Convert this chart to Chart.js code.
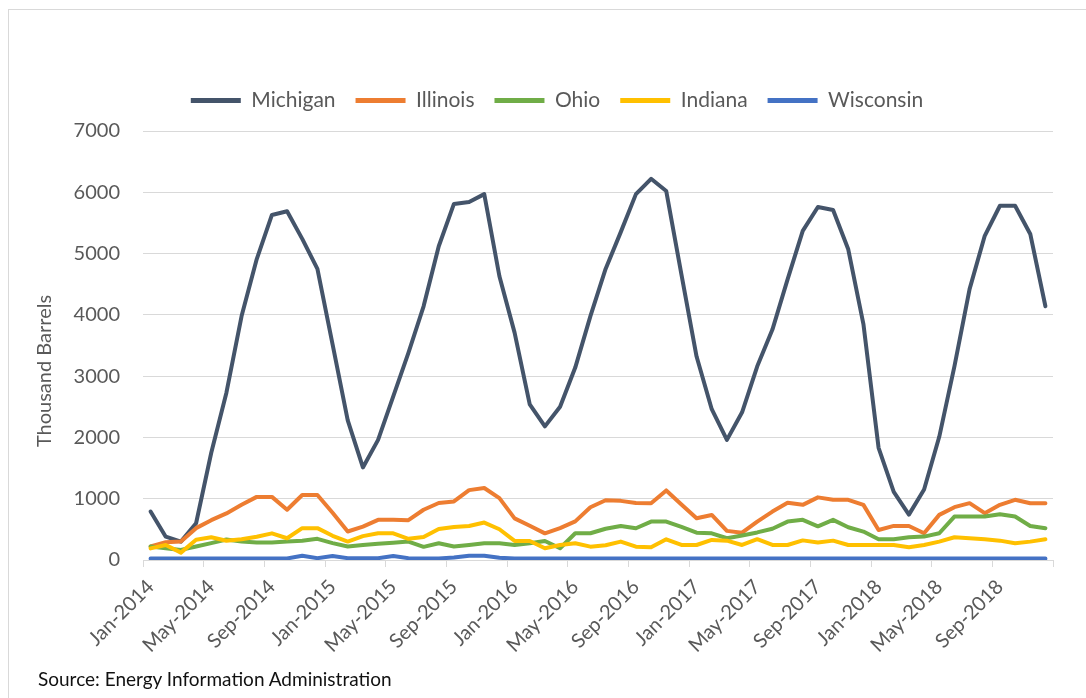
<!DOCTYPE html>
<html>
<head>
<meta charset="utf-8">
<script src="https://cdn.jsdelivr.net/npm/chart.js@4.4.1/dist/chart.umd.min.js"></script>
<style>
  html, body { margin: 0; padding: 0; background: #fff; }
  #wrap { position: relative; width: 1086px; height: 698px; overflow: hidden; }
  #frame { position: absolute; left: 8px; top: 9px; width: 1200px; height: 800px;
           border-top: 1px solid #d9d9d9; border-left: 1px solid #d9d9d9; }
  #chart { position: absolute; left: 0; top: 0; }
  #source { position: absolute; left: 38px; top: 667px; font: 19px Lato, sans-serif; color: #111; }
</style>
</head>
<body>
<div id="wrap">
  <div id="frame"></div>
  <canvas id="chart" width="1086" height="698" style="width:1086px;height:698px"></canvas>
  <div id="source">Source: Energy Information Administration</div>
</div>
<script>
// Monthly categories, Jan-2014 .. Dec-2018
const monthNames = ['Jan','Feb','Mar','Apr','May','Jun','Jul','Aug','Sep','Oct','Nov','Dec'];
const years = [2014, 2015, 2016, 2017, 2018];
const categories = [];
years.forEach(y => monthNames.forEach(m => categories.push(m + '-' + y)));

// Thousand barrels per month
const michigan = [
  790, 380, 300, 600, 1750, 2730, 3980, 4910, 5630, 5690, 5240, 4750,
  3520, 2280, 1510, 1960, 2670, 3380, 4140, 5120, 5810, 5840, 5970, 4630,
  3710, 2540, 2180, 2500, 3140, 3980, 4750, 5350, 5970, 6220, 6020, 4660,
  3320, 2460, 1960, 2410, 3160, 3760, 4580, 5370, 5760, 5710, 5070, 3850,
  1830, 1110, 740, 1150, 2010, 3160, 4420, 5290, 5780, 5780, 5320, 4140
];
const illinois = [
  220, 290, 300, 520, 650, 760, 900, 1030, 1030, 820, 1060, 1060,
  770, 465, 545, 655, 655, 650, 820, 930, 955, 1140, 1175, 1010,
  680, 560, 435, 520, 630, 860, 975, 965, 930, 925, 1135, 905,
  680, 735, 475, 445, 627, 790, 935, 900, 1022, 982, 982, 900,
  490, 556, 556, 436, 736, 862, 927, 764, 900, 982, 927, 927
];
const ohio = [
  220, 190, 165, 220, 275, 335, 300, 285, 285, 300, 315, 345,
  275, 220, 245, 265, 280, 300, 215, 273, 220, 245, 273, 273,
  245, 273, 310, 191, 436, 436, 510, 556, 518, 627, 627, 540,
  445, 436, 355, 400, 450, 510, 627, 655, 550, 655, 535, 464,
  338, 338, 371, 382, 436, 709, 709, 709, 748, 709, 556, 518
];
const indiana = [
  190, 245, 120, 330, 370, 315, 340, 380, 435, 355, 520, 520,
  395, 300, 390, 436, 436, 345, 375, 505, 540, 556, 611, 502,
  311, 311, 191, 245, 273, 218, 240, 300, 218, 207, 338, 245,
  245, 327, 316, 245, 340, 245, 245, 320, 284, 316, 245, 245,
  245, 245, 207, 245, 300, 371, 355, 338, 316, 273, 300, 338
];
const wisconsin = [
  25, 25, 25, 25, 25, 25, 25, 25, 25, 25, 70, 30,
  65, 30, 30, 30, 65, 30, 25, 25, 40, 70, 70, 35,
  25, 25, 25, 25, 25, 25, 25, 25, 25, 25, 25, 25,
  25, 25, 25, 25, 25, 25, 25, 25, 25, 25, 25, 25,
  25, 25, 25, 25, 25, 25, 25, 25, 25, 25, 25, 25
];

const yTitleText = 'Thousand Barrels';
const FONT = 'Lato';
const TEXT_GREY = '#595959';
const GRID_GREY = '#d9d9d9';

function series(label, data, color, order) {
  return {
    label, data, order,
    borderColor: color, backgroundColor: color,
    borderWidth: 4, pointRadius: 0, pointHoverRadius: 0,
    tension: 0, borderJoinStyle: 'round', borderCapStyle: 'round', fill: false
  };
}

// Moves the legend row to a chosen centre line
const legendPlacer = {
  id: 'legendPlacer',
  afterLayout(chart, args, opts) {
    const lg = chart.legend;
    if (!lg) return;
    const dx = opts.centerX - (lg.left + lg.right) / 2;
    lg.left += dx; lg.right += dx;
    lg.top += opts.dy; lg.bottom += opts.dy;
    if (lg.adjustHitBoxes) lg.adjustHitBoxes();
  }
};

// Rotated value-axis title
const axisTitle = {
  id: 'axisTitle',
  afterDraw(chart, args, opts) {
    const ctx = chart.ctx;
    ctx.save();
    ctx.translate(opts.x, opts.y);
    ctx.rotate(-Math.PI / 2);
    ctx.font = opts.size + 'px ' + FONT;
    ctx.fillStyle = TEXT_GREY;
    ctx.textAlign = 'center';
    ctx.textBaseline = 'middle';
    ctx.fillText(opts.text, 0, 0);
    ctx.restore();
  }
};

new Chart(document.getElementById('chart'), {
  type: 'line',
  data: {
    labels: categories,
    datasets: [
      series('Michigan', michigan, '#44546a', 5),
      series('Illinois', illinois, '#ed7d31', 4),
      series('Ohio', ohio, '#70ad47', 3),
      series('Indiana', indiana, '#ffc000', 2),
      series('Wisconsin', wisconsin, '#4472c4', 1)
    ]
  },
  plugins: [legendPlacer, axisTitle],
  options: {
    responsive: false,
    animation: false,
    events: [],
    layout: { padding: { left: 0, right: 33, top: 80, bottom: 0 } },
    plugins: {
      tooltip: { enabled: false },
      legendPlacer: { centerX: 557, dy: -10 },
      axisTitle: { text: yTitleText, x: 45, y: 371, size: 20 },
      legend: {
        position: 'top',
        labels: {
          boxWidth: 50,
          boxHeight: 5,
          padding: 20,
          color: TEXT_GREY,
          font: { family: FONT, size: 21 },
          sort: (a, b) => a.datasetIndex - b.datasetIndex,
          generateLabels(chart) {
            const items = Chart.defaults.plugins.legend.labels.generateLabels(chart);
            items.forEach(it => { it.lineWidth = 0; it.fillStyle = it.strokeStyle; });
            return items;
          }
        }
      }
    },
    scales: {
      x: {
        offset: true,
        grid: {
          offset: true,
          drawOnChartArea: false,
          tickLength: 7,
          tickColor: ctx => (ctx.index === undefined || ctx.index % 4 === 0) ? GRID_GREY : 'rgba(0,0,0,0)'
        },
        border: { color: GRID_GREY, width: 1 },
        ticks: {
          autoSkip: false,
          minRotation: 45,
          maxRotation: 45,
          padding: 8,
          color: TEXT_GREY,
          font: { family: FONT, size: 20 },
          callback(value, index) { return index % 4 === 0 ? categories[index] : ''; }
        },
        afterFit(scale) { scale.height = 138; }
      },
      y: {
        min: 0,
        max: 7000,
        ticks: {
          stepSize: 1000, padding: 23, color: TEXT_GREY, font: { family: FONT, size: 20 },
          callback: v => String(v)
        },
        grid: { color: GRID_GREY, lineWidth: 1, drawTicks: false },
        border: { display: false },
        afterFit(scale) { scale.width = 143; }
      }
    }
  }
});
</script>
</body>
</html>
